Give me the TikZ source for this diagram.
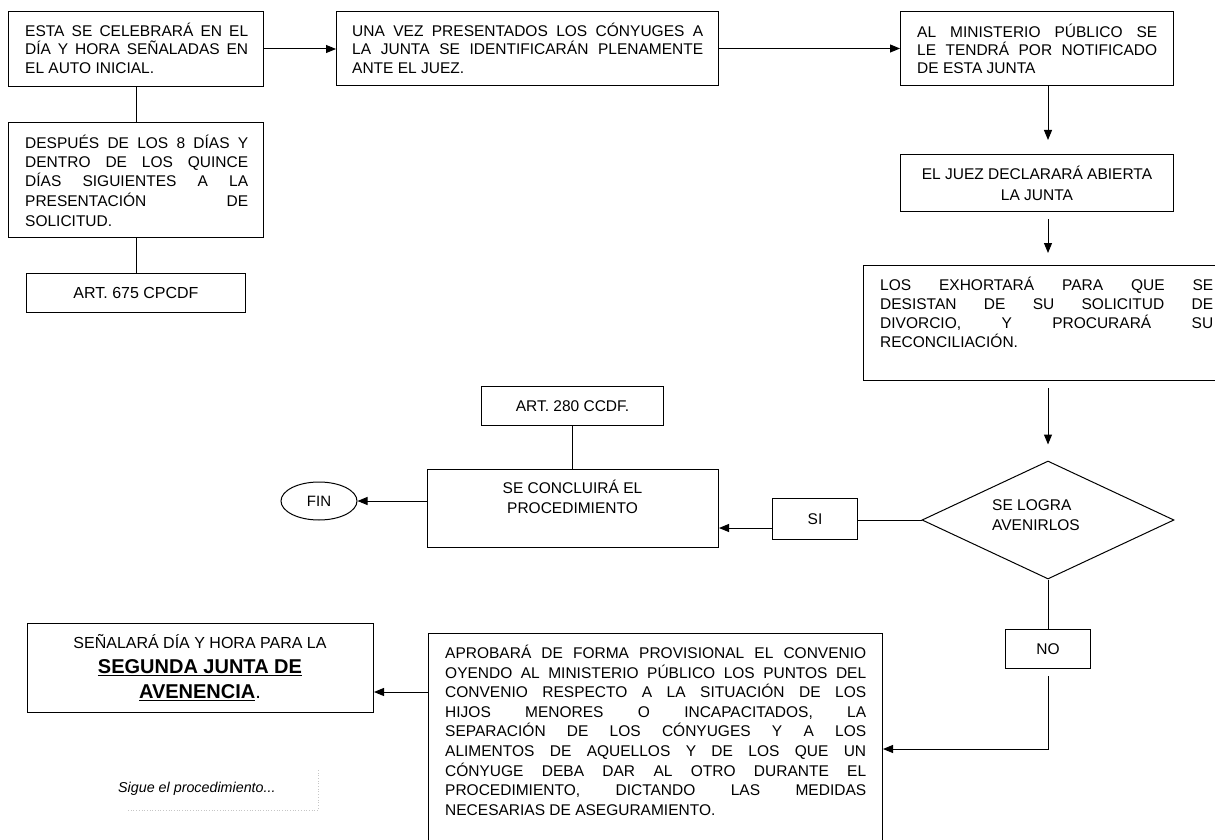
\documentclass[tikz,border=0pt]{standalone}
\usepackage{fontspec}
\setmainfont{Liberation Sans}
\usetikzlibrary{arrows.meta,shapes.geometric,calc}
\newcommand\jl[1]{\makebox[\linewidth][s]{#1}\\}
\newcommand\fsz[2]{\fontsize{#1}{#2}\selectfont}
\begin{document}
\begin{tikzpicture}[x=1pt,y=-1pt,
  bx/.style={draw,line width=1pt,inner sep=0pt,anchor=north west,align=center},
  txt/.style={inner sep=0pt,anchor=base west},
  ctxt/.style={inner sep=0pt,anchor=base},
  arr/.style={line width=1pt,-{Triangle[length=10pt,width=8pt]}},
  ln/.style={line width=1pt},
  noise/.style={gray!45,dotted,line width=0.7pt}]
\useasboundingbox (0,0) rectangle (1215,840);
\clip (0,0) rectangle (1215,840);

% left column
\node[bx,minimum width=255,minimum height=75] (A) at (8,11) {};
\node[txt] (At) at (25,36.2) {\parbox[t]{223pt}{\fsz{15.5}{18.5}\jl{ESTA SE CELEBRARÁ EN EL}\jl{DÍA Y HORA SEÑALADAS EN}EL AUTO INICIAL.}};

\node[bx,minimum width=255,minimum height=115] (B) at (8,122) {};
\node[txt] (Bt) at (25,148) {\parbox[t]{223pt}{\fsz{15.5}{19.5}\jl{DESPUÉS DE LOS 8 DÍAS Y}\jl{DENTRO DE LOS QUINCE}\jl{DÍAS SIGUIENTES A LA}\jl{PRESENTACIÓN DE}SOLICITUD.}};

\node[bx,minimum width=219,minimum height=39,font=\fsz{16}{18}] (C) at (26,273) {ART. 675 CPCDF};

% top row
\node[bx,minimum width=382,minimum height=74] (D) at (336,11) {};
\node[txt] (Dt) at (352,36.2) {\parbox[t]{351pt}{\fsz{15.5}{18.8}\jl{UNA VEZ PRESENTADOS LOS CÓNYUGES A}\jl{LA JUNTA SE IDENTIFICARÁN PLENAMENTE}ANTE EL JUEZ.}};

\node[bx,minimum width=273,minimum height=74] (E) at (900,11) {};
\node[txt] (Et) at (917,37.2) {\parbox[t]{240pt}{\fsz{15.5}{18.3}\jl{AL MINISTERIO PÚBLICO SE}\jl{LE TENDRÁ POR NOTIFICADO}DE ESTA JUNTA}};

\node[bx,minimum width=273,minimum height=57,font=\fsz{15.5}{21}] (F) at (900,154) {EL JUEZ DECLARARÁ ABIERTA\\LA JUNTA};

\node[bx,minimum width=370,minimum height=115] (G) at (863,265) {};
\node[txt] (Gt) at (880,290.5) {\parbox[t]{333pt}{\fsz{15.5}{18.9}\jl{LOS EXHORTARÁ PARA QUE SE}\jl{DESISTAN DE SU SOLICITUD DE}\jl{DIVORCIO, Y PROCURARÁ SU}RECONCILIACIÓN.}};

% decision
\node[draw,diamond,line width=1pt,minimum width=252,minimum height=118,inner sep=0pt] (dia) at (1048,520) {};
\node[txt] (diat) at (992,510.5) {\parbox[t]{110pt}{\fsz{15.5}{20}SE LOGRA\\AVENIRLOS}};

\node[bx,minimum width=85,minimum height=41,font=\fsz{15.5}{18}] (SI) at (772,498) {SI};

\node[bx,minimum width=291,minimum height=78] (K) at (427,469) {};
\node[ctxt] (Kt) at (572.5,493.5) {\parbox[t]{220pt}{\centering\fsz{15.5}{20}SE CONCLUIRÁ EL\\PROCEDIMIENTO}};

\node[bx,minimum width=182,minimum height=39,font=\fsz{15.5}{18}] (art) at (481,386) {ART. 280 CCDF.};

\node[draw,ellipse,line width=1pt,minimum width=76,minimum height=38,inner sep=0pt,font=\fsz{15}{18}] (fin) at (319,501) {FIN};

\node[bx,minimum width=85,minimum height=39,font=\fsz{15.5}{18}] (NO) at (1005,629) {NO};

% bottom
\node[bx,minimum width=454,minimum height=240] (H) at (428,633) {};
\node[txt] (Ht) at (445,658.5) {\parbox[t]{421pt}{\fsz{15.5}{19.6}%
\jl{APROBARÁ DE FORMA PROVISIONAL EL CONVENIO}%
\jl{OYENDO AL MINISTERIO PÚBLICO LOS PUNTOS DEL}%
\jl{CONVENIO RESPECTO A LA SITUACIÓN DE LOS}%
\jl{HIJOS MENORES O INCAPACITADOS, LA}%
\jl{SEPARACIÓN DE LOS CÓNYUGES Y A LOS}%
\jl{ALIMENTOS DE AQUELLOS Y DE LOS QUE UN}%
\jl{CÓNYUGE DEBA DAR AL OTRO DURANTE EL}%
\jl{PROCEDIMIENTO, DICTANDO LAS MEDIDAS}%
NECESARIAS DE ASEGURAMIENTO.}};

\node[bx,minimum width=346,minimum height=89] (S) at (27,623) {};
\node[ctxt] (St) at (200,648.4) {\parbox[t]{340pt}{\centering\fsz{16}{25}SEÑALARÁ DÍA Y HORA PARA LA\\
\fsz{20}{25}\bfseries\underline{SEGUNDA JUNTA DE}\\\underline{AVENENCIA}\mdseries.}};

\node[anchor=base west,inner sep=0pt] (sig) at (118,792) {\fsz{14.3}{16}\itshape Sigue el procedimiento...};
\draw[noise] (128,810) -- (318,810) -- (318,768);

% helper coordinates
\coordinate (yS) at (0,692);
\coordinate (yH) at (0,749);
\coordinate (yK) at (0,528);

% connectors
\draw[ln] (A.south) -- (B.north);
\draw[ln] (B.south) -- (C.north);
\draw[arr] (A.east) -- (A.east -| D.west);
\draw[arr] (D.east) -- (D.east -| E.west);
\draw[arr,shorten >=14pt] (E.south -| dia.north) -- (F.north -| dia.north);
\draw[arr,shorten <=7pt,shorten >=12pt] (F.south -| dia.north) -- (G.north -| dia.north);
\draw[arr,shorten <=7pt,shorten >=16pt] (G.south -| dia.north) -- (dia.north);
\draw[ln] (dia.west) -- (dia.west -| SI.east);
\draw[arr] (SI.west |- yK) -- (K.east |- yK);
\draw[ln] (art.south) -- (art.south |- K.north);
\draw[arr] (K.west |- fin.east) -- (fin.east);
\draw[ln] (dia.south) -- (dia.south |- NO.north);
\draw[arr,shorten <=7pt] (NO.south) -- (NO.south |- yH) -- (H.east |- yH);
\draw[arr] (H.west |- yS) -- (S.east |- yS);
\end{tikzpicture}
\end{document}
